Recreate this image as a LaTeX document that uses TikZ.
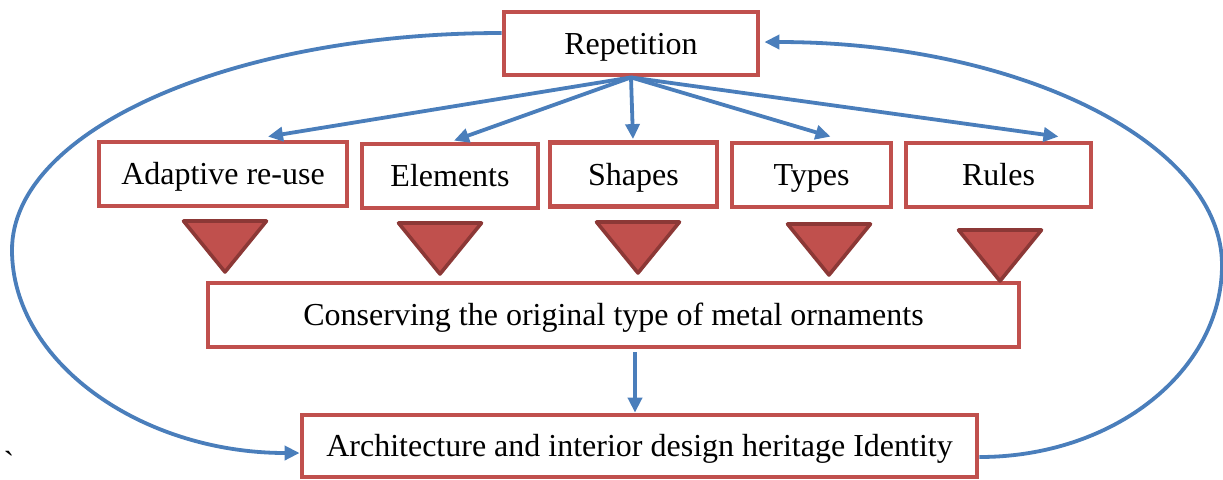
\documentclass[tikz,border=0pt]{standalone}
\usepackage{fontspec}
\setmainfont{Liberation Serif}
\usetikzlibrary{arrows.meta}
\definecolor{boxred}{HTML}{C0504D}
\definecolor{darkred}{HTML}{8C3836}
\definecolor{lineblue}{HTML}{4A7EBB}
\begin{document}
\begin{tikzpicture}[x=0.5pt,y=-0.5pt,
    box/.style={draw=boxred,line width=2.4pt,fill=white,minimum height=32pt,inner sep=0pt,text height=13pt,text depth=2.5pt,font=\fontsize{16}{19}\selectfont},
    link/.style={lineblue,line width=1.9pt,-{Triangle[length=7.5pt,width=7pt]}}]
        \useasboundingbox (0,0) rectangle (1223,479);
        \node[box,minimum width=127pt,minimum height=31.5pt](rep)at(631,43.5){Repetition};
        \node[box,minimum width=124pt](adapt)at(223,174){Adaptive re-use};
        \node[box,minimum width=88pt](elem)at(450,176){Elements};
        \node[box,minimum width=83.5pt](shapes)at(633.5,174.5){Shapes};
        \node[box,minimum width=79.5pt](types)at(811.5,175){Types};
        \node[box,minimum width=92.5pt](rules)at(998.5,175){Rules};
        \node[box,minimum width=405.5pt](cons)at(613.5,315){Conserving the original type of metal ornaments};
        \node[box,minimum width=337.5pt,minimum height=31pt](arch)at(639.5,446){Architecture and interior design heritage Identity};
        \node[font=\fontsize{16}{19}\selectfont](tick)at(9,462){\textasciigrave};
        \foreach \x/\y in {225/221,440/223,638/222,829/224,1000/230}
            \filldraw[fill=boxred,draw=darkred,line width=1.8pt,line join=round](\x-41.5,\y)--(\x+41.5,\y)--(\x,\y+51)--cycle;
        \draw[link](rep.south)--([xshift=22.5pt,yshift=1.5pt]adapt.north);
        \draw[link](rep.south)--([xshift=2pt,yshift=0.5pt]elem.north);
        \draw[link](rep.south)--([xshift=-0.25pt,yshift=0.5pt]shapes.north);
        \draw[link](rep.south)--([xshift=9.5pt,yshift=2pt]types.north);
        \draw[link](rep.south)--([xshift=30pt,yshift=2pt]rules.north);
        \draw[link]([xshift=10.75pt,yshift=-1.5pt]cons.south)--([xshift=10.75pt]cons.south |- arch.north);
        \draw[link]([yshift=5.25pt]rep.west) .. controls (232,33) and (12,130) .. (12,250)
            .. controls (12,362) and (141,453) .. ([yshift=-3.5pt]arch.west);
        \draw[link]([yshift=-5.5pt]arch.east) .. controls (1114,457) and (1222,371) .. (1222,265)
            .. controls (1222,142) and (1017,42) .. ([xshift=2pt,yshift=0.75pt]rep.east);
    \end{tikzpicture}
\end{document}
